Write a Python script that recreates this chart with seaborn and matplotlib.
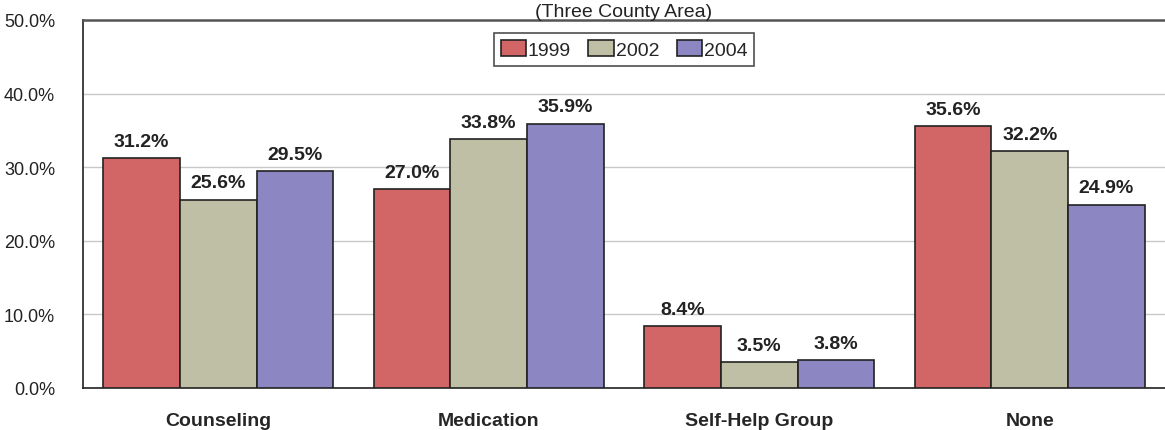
import matplotlib
matplotlib.use("Agg")
import matplotlib.pyplot as plt
import matplotlib.font_manager as fm
import seaborn as sns
import pandas as pd
from matplotlib.ticker import FuncFormatter

categories = ["Counseling", "Medication", "Self-Help Group", "None"]
years = ["1999", "2002", "2004"]
values_1999 = [31.2, 27.0, 8.4, 35.6]
values_2002 = [25.6, 33.8, 3.5, 32.2]
values_2004 = [29.5, 35.9, 3.8, 24.9]
colors = ["#D26666", "#BFBFA5", "#8C87C3"]

rows = []
for year, vals in zip(years, [values_1999, values_2002, values_2004]):
    for cat, v in zip(categories, vals):
        rows.append({"Category": cat, "Year": year, "Value": v})
df = pd.DataFrame(rows)

sns.set_style("white")
names = {f.name for f in fm.fontManager.ttflist}
narrow = "Liberation Sans Narrow" if "Liberation Sans Narrow" in names else "Liberation Sans"
plt.rcParams["font.family"] = [narrow, "DejaVu Sans"]

fig = plt.figure(figsize=(11.65, 4.31), dpi=100)
ax = fig.add_axes([83 / 1165, 1 - 389 / 431, (1165 - 83) / 1165, (389 - 21) / 431])

sns.barplot(data=df, x="Category", y="Value", hue="Year", palette=colors,
            width=0.85, gap=0, edgecolor="#222222", linewidth=1.2,
            saturation=1, ax=ax, zorder=3)

ax.set_ylim(0, 50)
ax.set_xlim(-0.5, 3.5)
ax.set_yticks([0, 10, 20, 30, 40, 50])
ax.yaxis.set_major_formatter(FuncFormatter(lambda v, p: f"{v:.1f}%"))
ax.grid(axis="y", color="#C8C8C8", linewidth=1, zorder=0)
ax.set_axisbelow(True)
ax.set_xlabel("")
ax.set_ylabel("")
ax.tick_params(axis="y", length=0, labelsize=13, pad=20, colors="#222222")
ax.tick_params(axis="x", length=0, labelsize=14, pad=17)
for lbl in ax.get_xticklabels():
    lbl.set_fontweight("bold")

for side in ["left", "bottom"]:
    ax.spines[side].set_color("#222222")
    ax.spines[side].set_linewidth(1.2)
ax.spines["top"].set_color("#555555")
ax.spines["top"].set_linewidth(1.8)
ax.spines["right"].set_visible(False)

for cont in ax.containers:
    ax.bar_label(cont, labels=[f"{v:.1f}%" for v in cont.datavalues],
                 padding=6, fontsize=14, fontweight="bold", color="#222222")

leg = ax.legend(loc="upper center", ncol=3, frameon=True, fontsize=14,
                bbox_to_anchor=(0.5, 0.99), handlelength=1.3, handleheight=0.9,
                handletextpad=0.1, columnspacing=0.9, borderpad=0.35,
                fancybox=False, edgecolor="#222222")
leg.get_frame().set_linewidth(1.2)

ax.text(0.5, 1.0, "(Three County Area)", transform=ax.transAxes,
        ha="center", va="bottom", fontsize=14, color="#222222")

fig.savefig("out.png", dpi=100, facecolor="white")
